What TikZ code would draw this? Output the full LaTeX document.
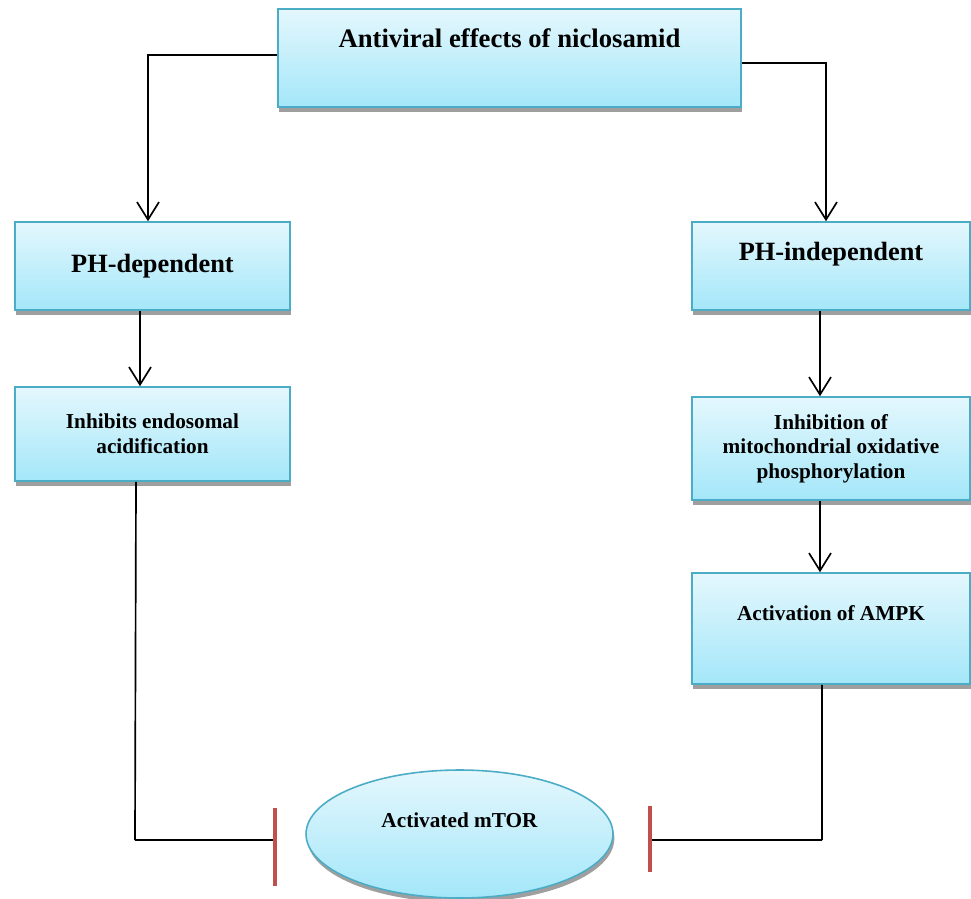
\documentclass[tikz,border=0pt]{standalone}
\usepackage{fontspec}
\setmainfont{Liberation Serif}
\usetikzlibrary{positioning,arrows.meta,shapes.geometric,shadows}

\definecolor{boxtop}{RGB}{228,247,253}
\definecolor{boxbot}{RGB}{164,231,249}
\definecolor{boxline}{RGB}{75,172,198}
\definecolor{barred}{RGB}{192,80,77}

\begin{document}
\begin{tikzpicture}[x=0.02cm,y=-0.02cm,
    box/.style={rectangle, draw=boxline, line width=0.9pt,
        top color=boxtop, bottom color=boxbot,
        drop shadow={shadow xshift=0.8pt, shadow yshift=-2.6pt, fill=black!75, opacity=0.5},
        font=\bfseries, align=center, inner sep=2pt},
    bubble/.style={box, ellipse, inner sep=0pt},
    bigtxt/.style={font=\bfseries\fontsize{15.2}{18}\selectfont},
    midtxt/.style={font=\bfseries\fontsize{15}{18}\selectfont},
    smalltxt/.style={font=\bfseries\fontsize{12.1}{14}\selectfont},
    arr/.style={-{Straight Barb[length=10pt,width=12.5pt]}, line width=0.95pt},
    link/.style={line width=0.95pt},
    thicklink/.style={line width=1.6pt},
    tbar/.style={barred, line width=2.8pt}]
    \useasboundingbox (0,0) rectangle (971,899);

    % Main box
    \node[box, bigtxt, minimum width=9.26cm, minimum height=1.96cm, text depth=0.8cm]
        (top) at (509.5,58) {Antiviral effects of niclosamid};

    % Left branch
    \node[box, midtxt, minimum width=5.5cm, minimum height=1.76cm]
        (phdep) at (152.5,266) {PH-dependent};
    \node[box, smalltxt, minimum width=5.5cm, minimum height=1.88cm]
        (endo) at (152.5,434) {Inhibits endosomal\\acidification};

    % Right branch
    \node[box, midtxt, minimum width=5.56cm, minimum height=1.76cm, text depth=0.6cm]
        (phind) at (831,266) {PH-independent};
    \node[box, smalltxt, minimum width=5.56cm, minimum height=2.06cm]
        (mito) at (831,448.5) {Inhibition of\\mitochondrial oxidative\\phosphorylation};
    \node[box, smalltxt, minimum width=5.56cm, minimum height=2.22cm, text depth=0.6cm]
        (ampk) at (831,628.5) {Activation of AMPK};

    % mTOR
    \node[bubble, smalltxt, minimum width=6.14cm, minimum height=2.56cm, text depth=0.56cm]
        (mtor) at (459.5,834) {Activated mTOR};

    % Arrows
    \draw[arr] ([yshift=0.06cm]top.west) -| ([xshift=-0.09cm]phdep.north);
    \draw[arr] ([yshift=-0.1cm]top.east) -| ([xshift=-0.1cm]phind.north);
    \draw[arr] ([xshift=-0.25cm]phdep.south) -- ([xshift=-0.25cm]endo.north);
    \draw[arr] ([xshift=-0.22cm]phind.south) -- ([xshift=-0.22cm]mito.north);
    \draw[arr] ([xshift=-0.22cm]mito.south) -- ([xshift=-0.22cm]ampk.north);

    % Inhibition lines
    \coordinate (cornerL) at (135,840);
    \coordinate (barL) at (275,840);
    \coordinate (cornerR) at (822,840);
    \coordinate (barR) at (650,840);
    \draw[link] ([xshift=-0.33cm]endo.south) -- (cornerL);
    \draw[thicklink] (cornerL) -- (barL);
    \draw[link] ([xshift=-0.18cm]ampk.south) -- (cornerR);
    \draw[thicklink] (cornerR) -- (barR);
    \draw[tbar] ([yshift=0.64cm]barL) -- ([yshift=-0.92cm]barL);
    \draw[tbar] ([yshift=0.68cm]barR) -- ([yshift=-0.64cm]barR);
\end{tikzpicture}
\end{document}
